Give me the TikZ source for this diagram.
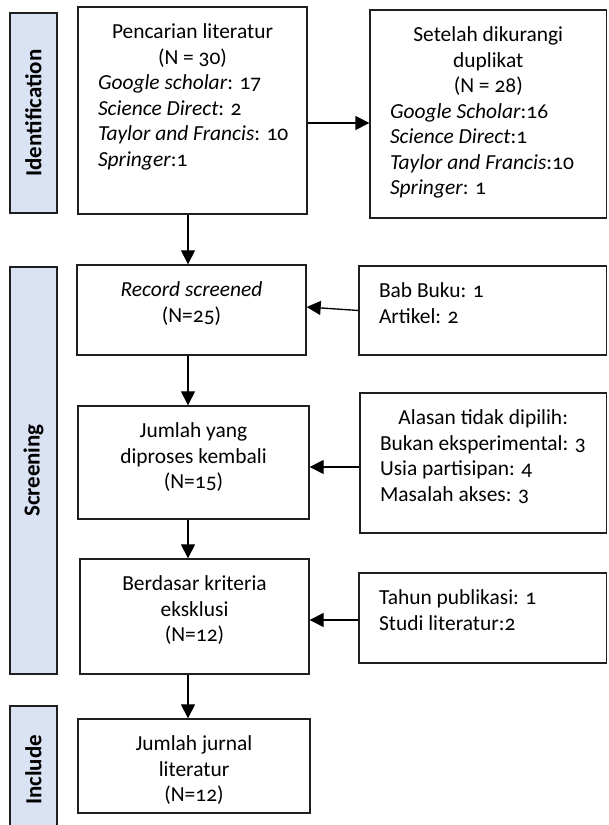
\documentclass[tikz,border=0pt]{standalone}
\usepackage{fontspec}
\setmainfont{Carlito}[Numbers=OldStyle]
\usepackage{tikz}
\usetikzlibrary{arrows.meta}
\usepackage{xcolor}
\usepackage{graphicx}
\definecolor{colordae3f3}{HTML}{DAE3F3}
\definecolor{color1f1f1f}{HTML}{1F1F1F}

% box text: width, height, lines (top aligned)
\newcommand{\isi}[3]{\parbox[c][\dimexpr#2cm-0.82cm\relax][t]{\dimexpr#1cm-1.2cm\relax}{\centering\strut#3}}
\newcommand{\kiri}[1]{\makebox[\linewidth][l]{#1}}

\begin{document}
\begin{tikzpicture}
    [>={Triangle[length=0.42cm, width=0.42cm]},  % filled arrow heads
     kotak/.style={rectangle, draw=color1f1f1f, line width=0.04cm, inner xsep=0.6cm, inner ysep=0.41cm, font=\fontsize{18.3}{21.8}\selectfont},
     bilah/.style={rectangle, draw=color1f1f1f, fill=colordae3f3, line width=0.04cm, inner sep=0pt, font=\fontsize{19.6}{22}\selectfont\bfseries},
     panah/.style={->, draw=black, line width=0.04cm},
    ]

\useasboundingbox (0,0) rectangle (18.24,24.75);

% phase bars
\node[bilah, minimum width=1.41cm, minimum height=6.0cm] (bar_id) at (1.005,21.36) {\rotatebox{90}{Identification}};
\node[bilah, minimum width=1.41cm, minimum height=12.21cm] (bar_screen) at (1.005,10.635) {\rotatebox{90}{Screening}};
\node[bilah, minimum width=1.41cm, minimum height=3.84cm] (bar_incl) at (1.005,1.65) {\rotatebox{90}{Include}};

% main column
\node[kotak, minimum width=6.87cm, minimum height=6.21cm] (lit) at (5.775,21.435) {\isi{6.87}{6.21}{Pencarian literatur\\(N = 30)\\\kiri{\textit{Google scholar}: 17}\\\kiri{\textit{Science Direct}: 2}\\\kiri{\textit{Taylor and Francis}: 10}\\\kiri{\textit{Springer}:1}}};
\node[kotak, minimum width=6.87cm, minimum height=2.7cm] (rec) at (5.745,15.45) {\isi{6.87}{2.7}{\textit{Record screened}\\(N=25)}};
\node[kotak, minimum width=6.93cm, minimum height=3.39cm] (jml) at (5.805,10.875) {\isi{6.93}{3.39}{Jumlah yang\\diproses kembali\\(N=15)}};
\node[kotak, minimum width=6.87cm, minimum height=3.45cm] (krit) at (5.835,6.255) {\isi{6.87}{3.45}{Berdasar kriteria\\eksklusi\\(N=12)}};
\node[kotak, minimum width=6.96cm, minimum height=2.82cm] (incl) at (5.82,1.77) {\isi{6.96}{2.82}{Jumlah jurnal\\literatur\\(N=12)}};

% side column
\node[kotak, minimum width=7.095cm, minimum height=6.24cm] (dup) at (14.648,21.33) {\isi{7.095}{6.24}{Setelah dikurangi\\duplikat\\(N = 28)\\\kiri{\textit{Google Scholar}:16}\\\kiri{\textit{Science Direct}:1}\\\kiri{\textit{Taylor and Francis}:10}\\\kiri{\textit{Springer}: 1}}};
\node[kotak, minimum width=7.425cm, minimum height=2.67cm] (bab) at (14.4825,15.435) {\isi{7.425}{2.67}{\kiri{Bab Buku: 1}\\\kiri{Artikel: 2}}};
\node[kotak, minimum width=7.395cm, minimum height=4.2cm] (alasan) at (14.4975,10.86) {\isi{7.395}{4.2}{Alasan tidak dipilih:\\\kiri{Bukan eksperimental: 3}\\\kiri{Usia partisipan: 4}\\\kiri{Masalah akses: 3}}};
\node[kotak, minimum width=7.425cm, minimum height=2.7cm] (tahun) at (14.4825,6.21) {\isi{7.425}{2.7}{\kiri{Tahun publikasi: 1}\\\kiri{Studi literatur:2}}};

\coordinate (alur) at (5.64,0);

% connectors
\draw[panah] ([yshift=-0.375cm]lit.east) -- ([yshift=-0.375cm]lit.east -| dup.west);
\draw[panah] (lit.south -| alur) -- (rec.north -| alur);
\draw[panah] (rec.south -| alur) -- (jml.north -| alur);
\draw[panah] (jml.south -| alur) -- (krit.north -| alur);
\draw[panah] (krit.south -| alur) -- (incl.north -| alur);
\draw[panah] (bab.west) -- ([yshift=0.09cm]rec.east);
\draw[panah] ([yshift=-0.12cm]alasan.west) -- ([yshift=-0.12cm]alasan.west -| jml.east);
\draw[panah] ([yshift=-0.06cm]tahun.west) -- ([yshift=-0.06cm]tahun.west -| krit.east);

\end{tikzpicture}
\end{document}
